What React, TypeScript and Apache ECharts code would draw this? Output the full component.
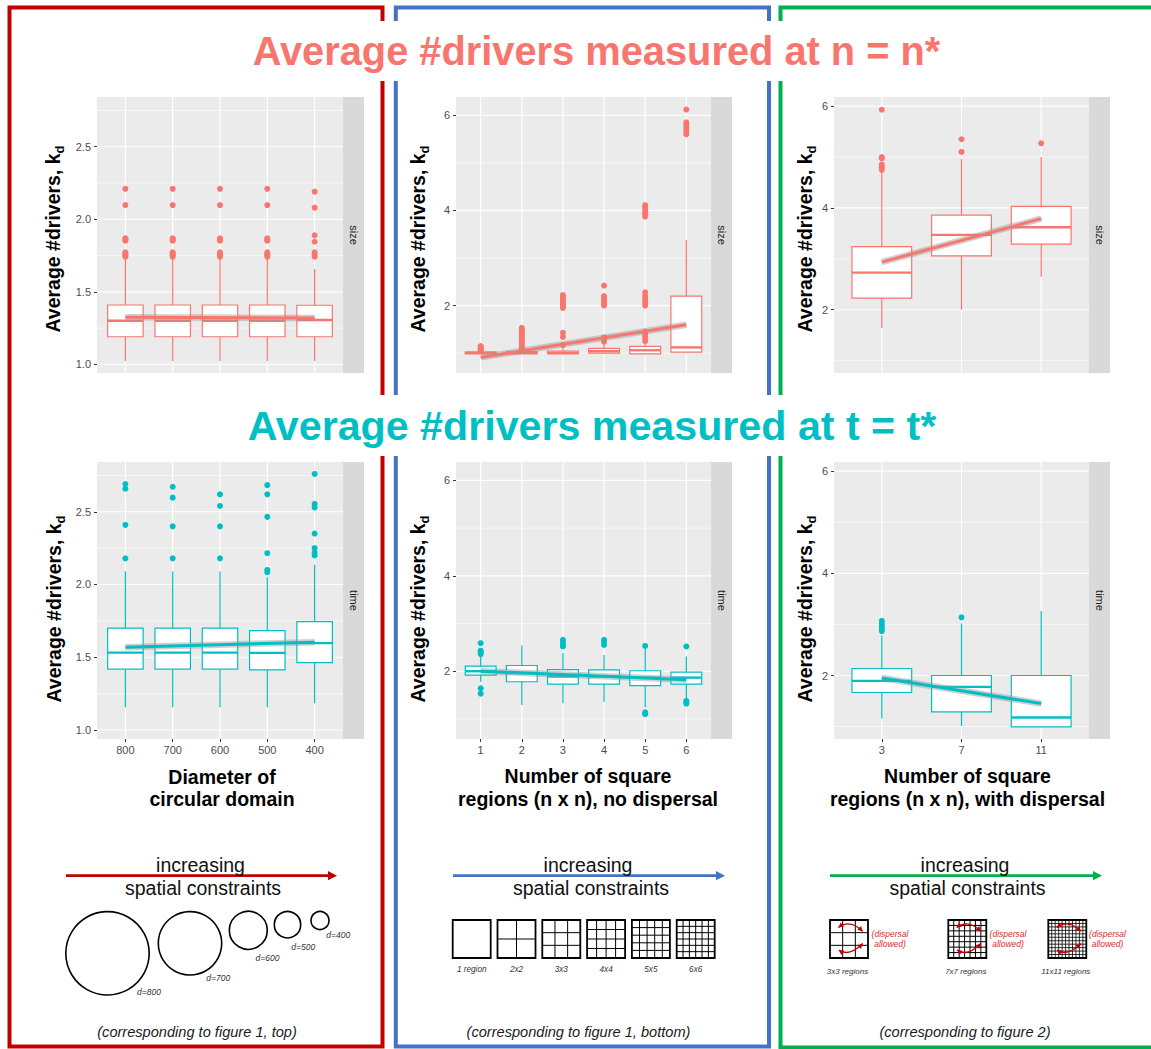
import React, { useEffect, useRef } from "react";
import * as echarts from "echarts";

const FONT = "'Liberation Sans', Arial, Helvetica, sans-serif";
const SALMON = "#F8766D";
const TEAL = "#00BFC4";
const RED = "#C00000";
const BLUE = "#4472C4";
const GREEN = "#00B050";
const DISP_RED = "#D0302C";

// ---------- categories ----------
const diameterCats = ["800", "700", "600", "500", "400"];
const noDispersalCats = ["1", "2", "3", "4", "5", "6"];
const dispersalCats = ["3", "7", "11"];

// ---------- y ticks ----------
const diamTicks = [1.0, 1.5, 2.0, 2.5];
const diamMinor = [1.25, 1.75, 2.25, 2.75];
const regionTicks = [2, 4, 6];
const regionMinor = [1, 3, 5];

// ---------- boxes: [min, Q1, median, Q3, max] ----------
// top row: measured at n = n* (size)
const sizeDiamBoxes = [
  [1.023, 1.19, 1.3, 1.409, 1.735],
  [1.023, 1.19, 1.3, 1.409, 1.735],
  [1.023, 1.19, 1.3, 1.409, 1.735],
  [1.023, 1.19, 1.3, 1.409, 1.735],
  [1.023, 1.19, 1.305, 1.407, 1.657],
];
const sizeDiamOutliers = [
  [1.742, 1.752, 1.76, 1.772, 1.852, 1.86, 1.869, 2.098, 2.21],
  [1.742, 1.752, 1.76, 1.772, 1.852, 1.86, 1.869, 2.098, 2.21],
  [1.742, 1.752, 1.76, 1.772, 1.852, 1.86, 1.869, 2.098, 2.21],
  [1.742, 1.752, 1.76, 1.772, 1.852, 1.86, 1.869, 2.098, 2.21],
  [1.742, 1.755, 1.772, 1.845, 1.889, 2.08, 2.19],
];
const sizeDiamFit = [1.324, 1.32];

const sizeNoDispBoxes = [
  [0.985, 0.99, 1.0, 1.025, 1.035],
  [0.985, 0.99, 1.0, 1.03, 1.045],
  [0.985, 0.99, 1.0, 1.04, 1.1],
  [0.99, 1.0, 1.04, 1.1, 1.2],
  [0.98, 0.985, 1.06, 1.14, 1.22],
  [1.0, 1.022, 1.12, 2.197, 3.378],
];
const sizeNoDispOutliers = [
  [1.05, 1.07, 1.09, 1.11, 1.13, 1.15],
  [1.06, 1.1, 1.14, 1.18, 1.22, 1.26, 1.3, 1.34, 1.38, 1.42, 1.46, 1.5, 1.53],
  [1.17, 1.34, 1.43, 1.95, 1.99, 2.03, 2.07, 2.11, 2.15, 2.19, 2.22],
  [1.24, 1.3, 1.33, 2.0, 2.04, 2.08, 2.12, 2.16, 2.2, 2.42],
  [1.25, 1.3, 1.35, 1.4, 1.45, 2.0, 2.05, 2.1, 2.15, 2.2, 2.28, 3.87, 3.92, 3.97, 4.02, 4.07, 4.11],
  [5.6, 5.65, 5.7, 5.75, 5.8, 5.85, 6.12],
];
const sizeNoDispFit = [0.91, 1.595];

const sizeDispBoxes = [
  [1.64, 2.23, 2.73, 3.24, 4.7],
  [2.0, 3.06, 3.47, 3.86, 4.96],
  [2.65, 3.29, 3.62, 4.03, 5.0],
];
const sizeDispOutliers = [
  [4.75, 4.8, 4.85, 4.97, 5.0, 5.93],
  [5.1, 5.35],
  [5.27],
];
const sizeDispFit = [2.935, 3.79];

// bottom row: measured at t = t* (time)
const timeDiamBoxes = [
  [1.156, 1.418, 1.532, 1.7, 2.09],
  [1.156, 1.418, 1.532, 1.7, 2.09],
  [1.156, 1.418, 1.532, 1.7, 2.09],
  [1.156, 1.413, 1.53, 1.683, 2.05],
  [1.184, 1.463, 1.597, 1.745, 2.135],
];
const timeDiamOutliers = [
  [2.18, 2.41, 2.658, 2.69],
  [2.18, 2.4, 2.597, 2.672],
  [2.18, 2.4, 2.54, 2.62],
  [2.085, 2.1, 2.215, 2.465, 2.62, 2.683],
  [2.2, 2.22, 2.25, 2.35, 2.53, 2.554, 2.76],
];
const timeDiamFit = [1.569, 1.603];

const timeNoDispBoxes = [
  [1.78, 1.92, 2.0, 2.105, 2.33],
  [1.29, 1.78, 1.96, 2.12, 2.54],
  [1.33, 1.73, 1.89, 2.035, 2.38],
  [1.36, 1.73, 1.89, 2.03, 2.34],
  [1.245, 1.7, 1.866, 2.01, 2.48],
  [1.44, 1.73, 1.866, 1.98, 2.31],
];
const timeNoDispOutliers = [
  [1.53, 1.643, 2.36, 2.4, 2.43, 2.587],
  [],
  [2.52, 2.56, 2.61, 2.66],
  [2.55, 2.62, 2.66],
  [1.1, 1.14, 2.53],
  [1.32, 1.35, 1.38, 2.52],
];
const timeNoDispFit = [2.0, 1.82];

const timeDispBoxes = [
  [1.158, 1.667, 1.895, 2.137, 2.79],
  [1.013, 1.287, 1.777, 2.0, 3.02],
  [0.994, 0.994, 1.178, 2.0, 3.265],
];
const timeDispOutliers = [
  [2.87, 2.92, 2.97, 3.02, 3.07],
  [3.14],
  [],
];
const timeDispFit = [1.95, 1.45];

// ---------- texts ----------
const titleSize = "Average #drivers measured at n = n*";
const titleTime = "Average #drivers measured at t = t*";
const xTitles = ["Diameter of\ncircular domain", "Number of square\nregions (n x n), no dispersal", "Number of square\nregions (n x n), with dispersal"];
const circleLabels = ["d=800", "d=700", "d=600", "d=500", "d=400"];
const squareSizes = [1, 2, 3, 4, 5, 6];
const squareLabels = ["1 region", "2x2", "3x3", "4x4", "5x5", "6x6"];
const dispSizes = [3, 7, 11];
const dispLabels = ["3x3 regions", "7x7 regions", "11x11 regions"];
const footnotes = ["(corresponding to figure 1, top)", "(corresponding to figure 1, bottom)", "(corresponding to figure 2)"];

type Panel = {
  cats: string[]; boxes: number[][]; out: number[][]; fit: number[]; color: string; strip: string;
  yMin: number; yMax: number; major: number[]; minor: number[]; dec: boolean; showX: boolean;
  left: number; top: number; width: number; height: number; titleX: number; titleY: number;
};

const panels: Panel[] = [
  { cats: diameterCats, boxes: sizeDiamBoxes, out: sizeDiamOutliers, fit: sizeDiamFit, color: SALMON, strip: "size", yMin: 0.94, yMax: 2.843, major: diamTicks, minor: diamMinor, dec: true, showX: false, left: 97, top: 97, width: 246, height: 276, titleX: 53, titleY: 239 },
  { cats: noDispersalCats, boxes: sizeNoDispBoxes, out: sizeNoDispOutliers, fit: sizeNoDispFit, color: SALMON, strip: "size", yMin: 0.582, yMax: 6.384, major: regionTicks, minor: regionMinor, dec: false, showX: false, left: 456, top: 97, width: 255, height: 276, titleX: 417.5, titleY: 239 },
  { cats: dispersalCats, boxes: sizeDispBoxes, out: sizeDispOutliers, fit: sizeDispFit, color: SALMON, strip: "size", yMin: 0.757, yMax: 6.18, major: regionTicks, minor: regionMinor, dec: false, showX: false, left: 834, top: 97, width: 255, height: 276, titleX: 805, titleY: 239 },
  { cats: diameterCats, boxes: timeDiamBoxes, out: timeDiamOutliers, fit: timeDiamFit, color: TEAL, strip: "time", yMin: 0.938, yMax: 2.842, major: diamTicks, minor: diamMinor, dec: true, showX: true, left: 97, top: 462, width: 246, height: 277, titleX: 54, titleY: 609 },
  { cats: noDispersalCats, boxes: timeNoDispBoxes, out: timeNoDispOutliers, fit: timeNoDispFit, color: TEAL, strip: "time", yMin: 0.58, yMax: 6.384, major: regionTicks, minor: regionMinor, dec: false, showX: true, left: 456, top: 462, width: 255, height: 277, titleX: 417.5, titleY: 609 },
  { cats: dispersalCats, boxes: timeDispBoxes, out: timeDispOutliers, fit: timeDispFit, color: TEAL, strip: "time", yMin: 0.757, yMax: 6.18, major: regionTicks, minor: regionMinor, dec: false, showX: true, left: 834, top: 462, width: 255, height: 277, titleX: 805, titleY: 609 },
];

function txt(text: string, x: number, y: number, o: any = {}) {
  const align = o.align ?? "center";
  return {
    type: "text", x, y, z: o.z ?? 5, rotation: o.rotation ?? 0, silent: true,
    style: {
      text, fontSize: o.size ?? 12, fontWeight: o.weight ?? "normal", fontStyle: o.italic ? "italic" : "normal",
      fontFamily: FONT, fill: o.color ?? "#000", align, verticalAlign: "middle", textAlign: align, textVerticalAlign: "middle",
      lineHeight: o.lh, rich: o.rich,
    },
  };
}

function arrowHead(tip: number[], dir: number[], L: number, W: number, color: string) {
  const len = Math.hypot(dir[0], dir[1]) || 1;
  const ux = dir[0] / len, uy = dir[1] / len;
  const bx = tip[0] - ux * L, by = tip[1] - uy * L;
  return {
    type: "polygon", z: 6, silent: true,
    shape: { points: [[tip[0], tip[1]], [bx - uy * W, by + ux * W], [bx + uy * W, by - ux * W]] },
    style: { fill: color },
  };
}

function gridSquare(gx: number, gy: number, s: number, n: number, inner: number) {
  const els: any[] = [];
  for (let k = 1; k < n; k++) {
    const d = (s * k) / n;
    els.push({ type: "line", z: 5, silent: true, shape: { x1: gx + d, y1: gy, x2: gx + d, y2: gy + s }, style: { stroke: "#000", lineWidth: inner } });
    els.push({ type: "line", z: 5, silent: true, shape: { x1: gx, y1: gy + d, x2: gx + s, y2: gy + d }, style: { stroke: "#000", lineWidth: inner } });
  }
  els.push({ type: "rect", z: 5, silent: true, shape: { x: gx, y: gy, width: s, height: s }, style: { fill: "none", stroke: "#000", lineWidth: 1.8 } });
  return els;
}

function dispArrows(gx: number, gy: number, s: number) {
  const els: any[] = [];
  const curves = [
    { p1: [gx + 0.22 * s, gy + 0.2 * s], c: [gx + 0.52 * s, gy - 0.04 * s], p2: [gx + 0.86 * s, gy + 0.3 * s] },
    { p1: [gx + 0.23 * s, gy + 0.79 * s], c: [gx + 0.5 * s, gy + 0.98 * s], p2: [gx + 0.86 * s, gy + 0.62 * s] },
  ];
  curves.forEach((cv) => {
    els.push({ type: "bezierCurve", z: 6, silent: true, shape: { x1: cv.p1[0], y1: cv.p1[1], x2: cv.p2[0], y2: cv.p2[1], cpx1: cv.c[0], cpy1: cv.c[1] }, style: { stroke: RED, lineWidth: 1.3, fill: "none" } });
    els.push(arrowHead(cv.p1, [cv.p1[0] - cv.c[0], cv.p1[1] - cv.c[1]], 5, 2.6, RED));
    els.push(arrowHead(cv.p2, [cv.p2[0] - cv.c[0], cv.p2[1] - cv.c[1]], 5, 2.6, RED));
  });
  return els;
}

function buildGraphic() {
  const g: any[] = [];
  // frames
  g.push({ type: "rect", z: 0, silent: true, shape: { x: 9.5, y: 7.5, width: 373, height: 1039 }, style: { fill: "none", stroke: RED, lineWidth: 4 } });
  g.push({ type: "rect", z: 0, silent: true, shape: { x: 395.8, y: 7.5, width: 373.2, height: 1039 }, style: { fill: "none", stroke: BLUE, lineWidth: 4 } });
  g.push({ type: "rect", z: 0, silent: true, shape: { x: 780.5, y: 7.5, width: 380, height: 1040 }, style: { fill: "none", stroke: GREEN, lineWidth: 4 } });
  // title backgrounds
  g.push({ type: "rect", z: 2, silent: true, shape: { x: 240, y: 21, width: 715, height: 60 }, style: { fill: "#fff" } });
  g.push({ type: "rect", z: 2, silent: true, shape: { x: 230, y: 395, width: 725, height: 61 }, style: { fill: "#fff" } });
  g.push(txt(titleSize, 596.5, 51, { size: 39.8, weight: "bold", color: SALMON }));
  g.push(txt(titleTime, 592, 426, { size: 41.2, weight: "bold", color: TEAL }));

  panels.forEach((p) => {
    // strip
    g.push({ type: "rect", z: 1, silent: true, shape: { x: p.left + p.width, y: p.top, width: 21, height: p.height }, style: { fill: "#D9D9D9" } });
    g.push(txt(p.strip, p.left + p.width + 10.5, p.top + p.height / 2, { size: 11, color: "#1A1A1A", rotation: -Math.PI / 2 }));
    // y title
    g.push({
      type: "text", x: p.titleX, y: p.titleY, z: 5, rotation: Math.PI / 2, silent: true,
      style: {
        text: "{m|Average #drivers, k}{s|d}", align: "center", verticalAlign: "middle", textAlign: "center", textVerticalAlign: "middle",
        rich: {
          m: { fontSize: 19.5, fontWeight: "bold", fontFamily: FONT, fill: "#000", color: "#000", lineHeight: 26, verticalAlign: "middle" },
          s: { fontSize: 13, fontWeight: "bold", fontFamily: FONT, fill: "#000", color: "#000", lineHeight: 12, verticalAlign: "bottom" },
        },
      },
    });
  });

  // x titles
  const xtPos = [[222, 788], [588, 787.5], [967.5, 787.5]];
  xTitles.forEach((t, i) => g.push(txt(t, xtPos[i][0], xtPos[i][1], { size: 19.5, weight: "bold", lh: 22.5 })));

  // increasing spatial constraints
  const arrows = [
    { x1: 66, x2: 337, c: RED, t1: 200.5, t2: 203 },
    { x1: 453, x2: 725, c: BLUE, t1: 588, t2: 591 },
    { x1: 830, x2: 1102, c: GREEN, t1: 965, t2: 967.5 },
  ];
  arrows.forEach((a) => {
    g.push({ type: "line", z: 5, silent: true, shape: { x1: a.x1, y1: 875.7, x2: a.x2 - 6, y2: 875.7 }, style: { stroke: a.c, lineWidth: 2.8 } });
    g.push(arrowHead([a.x2, 875.7], [1, 0], 9, 4.6, a.c));
    g.push(txt("increasing", a.t1, 865, { size: 19.5, color: "#111", z: 7 }));
    g.push(txt("spatial constraints", a.t2, 888, { size: 19.5, color: "#111", z: 7 }));
  });

  // circles
  const circles = [
    { cx: 107.5, cy: 953.3, r: 41.7, lx: 149, ly: 992.3 },
    { cx: 190, cy: 943.3, r: 31.7, lx: 218.3, ly: 977.7 },
    { cx: 248.3, cy: 930.3, r: 19, lx: 267.5, ly: 957.7 },
    { cx: 287.5, cy: 924.7, r: 13.2, lx: 303.3, ly: 947.3 },
    { cx: 320, cy: 920.5, r: 9, lx: 338.3, ly: 935 },
  ];
  circles.forEach((c, i) => {
    g.push({ type: "circle", z: 5, silent: true, shape: { cx: c.cx, cy: c.cy, r: c.r }, style: { fill: "none", stroke: "#000", lineWidth: 1.6 } });
    g.push(txt(circleLabels[i], c.lx, c.ly, { size: 8.5, italic: true, color: "#333" }));
  });

  // squares (no dispersal)
  squareSizes.forEach((n, i) => {
    const gx = 452.7 + i * 44.8;
    g.push(...gridSquare(gx, 920, 38, n, 1));
    g.push(txt(squareLabels[i], gx + 19, 969.3, { size: 8.2, italic: true, color: "#333" }));
  });

  // squares with dispersal
  const dispX = [830, 948.3, 1048.3];
  const dispTextX = [890, 1008, 1107.5];
  dispSizes.forEach((n, i) => {
    const gx = dispX[i];
    g.push(...gridSquare(gx, 920, 38, n, n > 7 ? 0.8 : 1));
    g.push(...dispArrows(gx, 920, 38));
    g.push(txt("(dispersal\nallowed)", dispTextX[i], 939.3, { size: 8.5, italic: true, color: DISP_RED, lh: 10 }));
    g.push(txt(dispLabels[i], gx + 17.5, 971, { size: 8, italic: true, color: "#333" }));
  });

  // footnotes
  const fnX = [197, 578.5, 965];
  footnotes.forEach((t, i) => g.push(txt(t, fnX[i], 1031.7, { size: 14.6, italic: true, color: "#1A1A1A" })));
  return g;
}

function buildOption() {
  const grid: any[] = [];
  const xAxis: any[] = [];
  const yAxis: any[] = [];
  const series: any[] = [];
  panels.forEach((p, i) => {
    const N = p.cats.length;
    const catPos = p.cats.map((_, k) => k + 1);
    grid.push({ left: p.left, top: p.top, width: p.width, height: p.height, show: true, backgroundColor: "#EBEBEB", borderWidth: 0, containLabel: false, outerBoundsMode: "none" });
    xAxis.push({
      type: "value", gridIndex: i, min: 0.4, max: N + 0.6,
      axisLine: { show: false }, splitLine: { show: false }, minorSplitLine: { show: false },
      axisTick: { show: p.showX, length: 3, customValues: catPos, lineStyle: { color: "#333", width: 1 } },
      axisLabel: { show: p.showX, customValues: catPos, formatter: (v: number) => p.cats[Math.round(v) - 1] ?? "", fontSize: 11, color: "#4D4D4D", margin: 5, fontFamily: FONT },
    });
    yAxis.push({
      type: "value", gridIndex: i, min: p.yMin, max: p.yMax,
      axisLine: { show: false }, splitLine: { show: false }, minorSplitLine: { show: false },
      axisTick: { show: true, length: 3, customValues: p.major, lineStyle: { color: "#333", width: 1 } },
      axisLabel: { show: true, customValues: p.major, formatter: (v: number) => (p.dec ? v.toFixed(1) : String(v)), fontSize: 11, color: "#4D4D4D", margin: 6, fontFamily: FONT },
    });
    // grid lines
    series.push({
      type: "custom", xAxisIndex: i, yAxisIndex: i, z: 1, silent: true, clip: false,
      data: [...p.major.map((v) => [0, v]), ...p.minor.map((v) => [1, v]), ...catPos.map((v) => [2, v])],
      renderItem: (params: any, api: any) => {
        const kind = api.value(0);
        const v = api.value(1);
        const cs = params.coordSys;
        if (kind === 2) {
          const px = api.coord([v, p.yMin])[0];
          return { type: "line", shape: { x1: px, y1: cs.y, x2: px, y2: cs.y + cs.height }, style: { stroke: "#fff", lineWidth: 1.2 } };
        }
        const py = api.coord([1, v])[1];
        return { type: "line", shape: { x1: cs.x, y1: py, x2: cs.x + cs.width, y2: py }, style: { stroke: "#fff", lineWidth: kind === 0 ? 1.2 : 0.6 } };
      },
    });
    // boxes
    const color = p.color;
    series.push({
      type: "custom", xAxisIndex: i, yAxisIndex: i, z: 3, silent: true, clip: false,
      data: p.boxes.map((b, k) => [k + 1, ...b]),
      encode: { x: 0, y: [1, 2, 3, 4, 5] },
      renderItem: (_params: any, api: any) => {
        const x = api.value(0);
        const vals = [1, 2, 3, 4, 5].map((d) => api.value(d));
        const pts = vals.map((v) => api.coord([x, v]));
        const hw = api.size([0.75, 0])[0] / 2;
        const cx = pts[2][0];
        return {
          type: "group",
          children: [
            { type: "line", shape: { x1: cx, y1: pts[3][1], x2: cx, y2: pts[4][1] }, style: { stroke: color, lineWidth: 1.2 } },
            { type: "line", shape: { x1: cx, y1: pts[1][1], x2: cx, y2: pts[0][1] }, style: { stroke: color, lineWidth: 1.2 } },
            { type: "rect", shape: { x: cx - hw, y: pts[3][1], width: 2 * hw, height: pts[1][1] - pts[3][1] }, style: { fill: "#fff", stroke: color, lineWidth: 1.2 } },
            { type: "line", shape: { x1: cx - hw, y1: pts[2][1], x2: cx + hw, y2: pts[2][1] }, style: { stroke: color, lineWidth: 2.4 } },
          ],
        };
      },
    });
    // outliers
    series.push({
      type: "scatter", xAxisIndex: i, yAxisIndex: i, z: 3, silent: true, symbolSize: 6,
      itemStyle: { color, opacity: 1 },
      data: p.out.flatMap((arr, k) => arr.map((v) => [k + 1, v])),
    });
    // smooth band + line
    const fitData = [[1, p.fit[0]], [N, p.fit[1]]];
    series.push({ type: "line", xAxisIndex: i, yAxisIndex: i, z: 4, silent: true, symbol: "none", data: fitData, lineStyle: { color: "rgba(150,150,150,0.45)", width: 6.5 } });
    series.push({ type: "line", xAxisIndex: i, yAxisIndex: i, z: 5, silent: true, symbol: "none", data: fitData, lineStyle: { color, width: 3 } });
  });
  return { animation: false, backgroundColor: "#fff", grid, xAxis, yAxis, series, graphic: { elements: buildGraphic() } };
}

export default function App() {
  const ref = useRef<HTMLDivElement>(null);
  useEffect(() => {
    document.body.style.margin = "0";
    const chart = echarts.init(ref.current as HTMLDivElement, null, { renderer: "svg" });
    chart.setOption(buildOption() as any);
    return () => chart.dispose();
  }, []);
  return <div ref={ref} style={{ width: 1151, height: 1049, background: "#fff" }} />;
}
